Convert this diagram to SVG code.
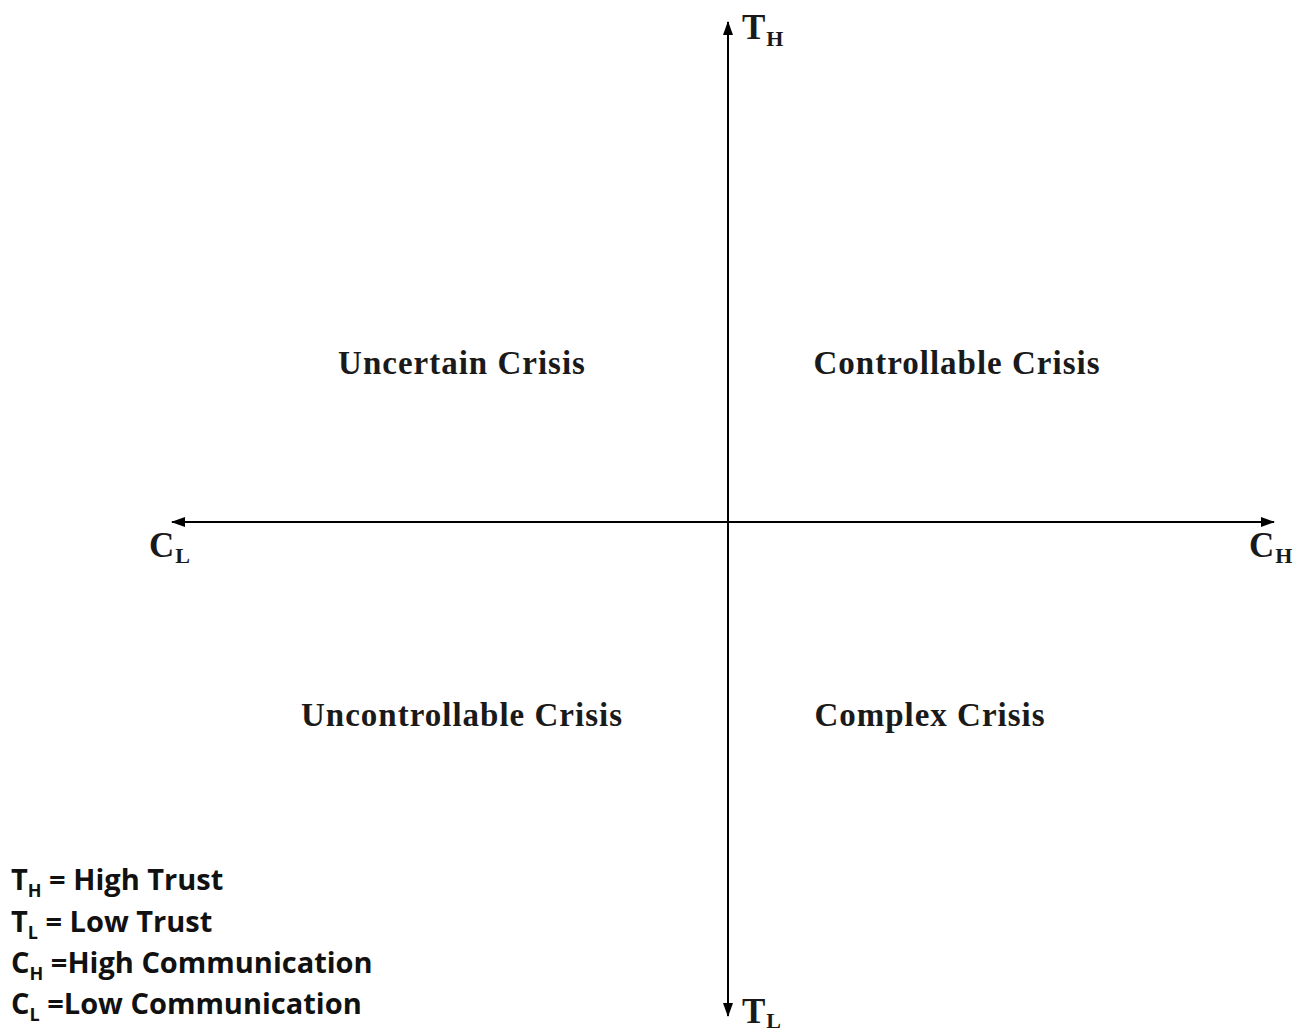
<svg xmlns="http://www.w3.org/2000/svg" width="1293" height="1035" viewBox="0 0 1293 1035">
<defs>
<marker id="ah" viewBox="0 0 14 10" refX="13" refY="5" markerWidth="14" markerHeight="10" markerUnits="userSpaceOnUse" orient="auto-start-reverse">
<path d="M0,0 L14,5 L0,10 Z" fill="#000"/>
</marker>
<style>
.ax{stroke:#000;stroke-width:2;fill:none}
.q{font-family:"Liberation Serif",serif;font-weight:bold;font-size:33px;letter-spacing:1px;fill:#1a1a1a}
.al{font-family:"Liberation Serif",serif;font-weight:bold;font-size:35px;fill:#1a1a1a}
.sub{font-size:22px}
.lg{font-family:"Open Sans","Liberation Sans",sans-serif;font-weight:bold;font-size:29px;fill:#111}
.ls{font-size:18px}
</style>
</defs>
<rect width="1293" height="1035" fill="#fff"/>
<g id="connectors">
<line class="ax" x1="728" y1="521" x2="728" y2="22" marker-end="url(#ah)"/>
<line class="ax" x1="728" y1="521" x2="728" y2="1016" marker-end="url(#ah)"/>
<line class="ax" x1="172" y1="522" x2="1274" y2="522" marker-start="url(#ah)" marker-end="url(#ah)"/>
</g>
<g id="axis-TH"><text class="al" x="742" y="39">T<tspan class="sub" dx="1" dy="7">H</tspan></text></g>
<g id="axis-TL"><text class="al" x="742" y="1023">T<tspan class="sub" dx="1" dy="5">L</tspan></text></g>
<g id="axis-CL"><text class="al" x="149" y="557">C<tspan class="sub" dx="1" dy="6">L</tspan></text></g>
<g id="axis-CH"><text class="al" x="1249" y="557">C<tspan class="sub" dx="1" dy="6">H</tspan></text></g>
<g id="q-uncertain"><text class="q" x="462" y="374" text-anchor="middle">Uncertain Crisis</text></g>
<g id="q-controllable"><text class="q" x="957" y="374" text-anchor="middle">Controllable Crisis</text></g>
<g id="q-uncontrollable"><text class="q" x="462" y="726" text-anchor="middle">Uncontrollable Crisis</text></g>
<g id="q-complex"><text class="q" x="930" y="726" text-anchor="middle">Complex Crisis</text></g>
<g id="legend">
<text class="lg" x="11" y="890">T<tspan class="ls" dy="7">H</tspan><tspan dy="-7"> = High Trust</tspan></text>
<text class="lg" x="11" y="932">T<tspan class="ls" dy="7">L</tspan><tspan dy="-7"> = Low Trust</tspan></text>
<text class="lg" x="11" y="973">C<tspan class="ls" dy="7">H</tspan><tspan dy="-7"> =High Communication</tspan></text>
<text class="lg" x="11" y="1014">C<tspan class="ls" dy="7">L</tspan><tspan dy="-7"> =Low Communication</tspan></text>
</g>
</svg>
